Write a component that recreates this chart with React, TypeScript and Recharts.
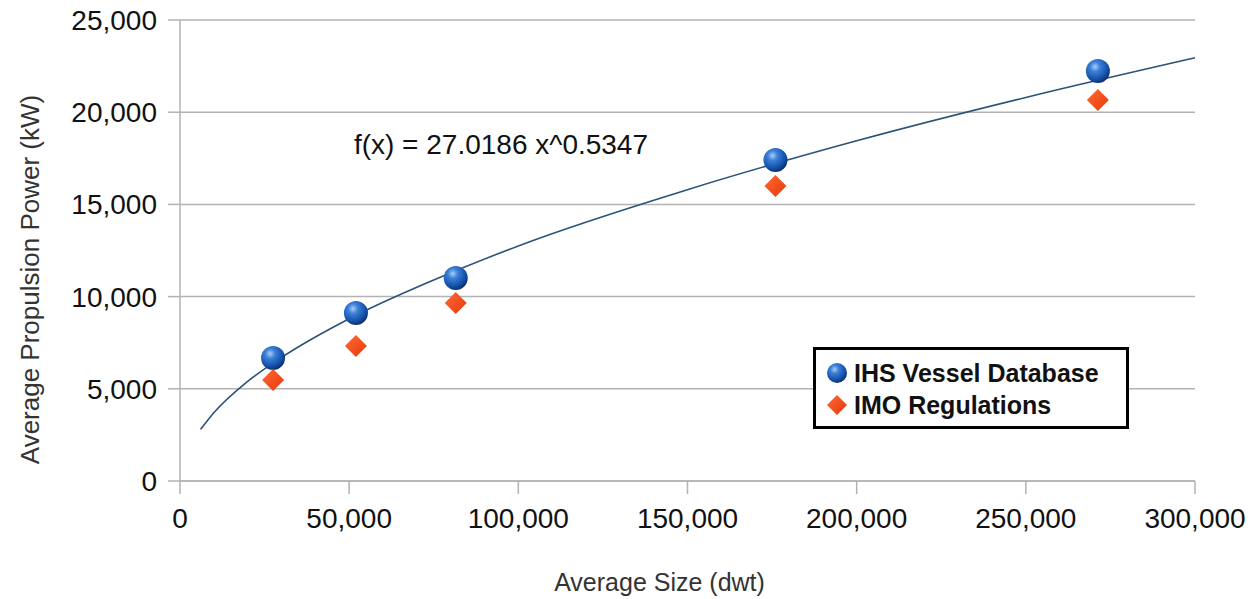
import React from 'react';
import {
  ComposedChart,
  Line,
  Scatter,
  XAxis,
  YAxis,
  CartesianGrid,
  Legend,
  ReferenceDot
} from 'recharts';

// average ship size (dwt) per size class
const sizeDwt = [27500, 52000, 81500, 176000, 271300];
const ihsPower = [6670, 9110, 11010, 17410, 22230];
const imoPower = [5480, 7320, 9650, 16000, 20660];

// power-law trend line
const trendSize = [6100, 10000, 20000, 30000, 50000, 75000, 100000, 150000, 200000, 250000, 300000];
const trendPower = [2800, 3700, 5400, 6700, 8800, 10900, 12750, 15800, 18450, 20800, 22950];

const xTicks = [0, 50000, 100000, 150000, 200000, 250000, 300000];
const yTicks = [0, 5000, 10000, 15000, 20000, 25000];

const seriesNames = ['IHS Vessel Database', 'IMO Regulations'];
const trendLabel = 'f(x) = 27.0186 x^0.5347';
const labelPos = { x: 51700, y: 18220 };

const FONT = '"Liberation Sans", Arial, sans-serif';
const GRID = '#b3b3b3';

const ihsData = sizeDwt.map((x, i) => ({ x, y: ihsPower[i] }));
const imoData = sizeDwt.map((x, i) => ({ x, y: imoPower[i] }));
const trendData = trendSize.map((x, i) => ({ x, y: trendPower[i] }));

const fmt = (v: number) => v.toLocaleString('en-US');

const SphereDefs = () => (
  <defs>
    <radialGradient id="sphereFill" cx="38%" cy="32%" r="70%">
      <stop offset="0%" stopColor="#a9cdf7" />
      <stop offset="30%" stopColor="#3b7fd6" />
      <stop offset="75%" stopColor="#1450a8" />
      <stop offset="100%" stopColor="#0a2f6e" />
    </radialGradient>
    <linearGradient id="diamondFill" x1="0" y1="0" x2="1" y2="1">
      <stop offset="0%" stopColor="#ff6a36" />
      <stop offset="100%" stopColor="#e8380a" />
    </linearGradient>
  </defs>
);

const Sphere = ({ cx, cy, r = 12 }: any) => (
  <g>
    <SphereDefs />
    <circle cx={cx} cy={cy} r={r} fill="url(#sphereFill)" />
  </g>
);

const Diamond = ({ cx, cy, s = 11 }: any) => (
  <g>
    <SphereDefs />
    <polygon
      points={`${cx},${cy - s} ${cx + s},${cy} ${cx},${cy + s} ${cx - s},${cy}`}
      fill="url(#diamondFill)"
    />
  </g>
);

const renderLegend = (props: any) => {
  const items = (props.payload || []).filter((p: any) => seriesNames.includes(p.value));
  return (
    <div
      style={{
        border: '3px solid #000',
        background: '#fff',
        boxSizing: 'border-box',
        width: 316,
        height: 82,
        padding: '7px 0 0 8px',
        fontFamily: FONT
      }}
    >
      {items.map((item: any) => {
        const idx = seriesNames.indexOf(item.value);
        return (
          <div key={item.value} style={{ display: 'flex', alignItems: 'center', height: 32 }}>
            <svg width={26} height={26}>
              {idx === 0 ? <Sphere cx={13} cy={13} r={10} /> : <Diamond cx={13} cy={13} s={10} />}
            </svg>
            <span style={{ fontSize: 25, fontWeight: 'bold', color: '#111', marginLeft: 4 }}>
              {item.value}
            </span>
          </div>
        );
      })}
    </div>
  );
};

const XTitle = ({ viewBox }: any) => (
  <text
    x={viewBox.x + viewBox.width / 2 - 28}
    y={582}
    textAnchor="middle"
    dominantBaseline="central"
    fontFamily={FONT}
    fontSize={25}
    fill="#333"
  >
    Average Size (dwt)
  </text>
);

const YTitle = ({ viewBox }: any) => {
  const cx = 30;
  const cy = viewBox.y + viewBox.height / 2 + 29;
  return (
    <text
      x={cx}
      y={cy}
      transform={`rotate(-90, ${cx}, ${cy})`}
      textAnchor="middle"
      dominantBaseline="central"
      fontFamily={FONT}
      fontSize={26}
      fill="#333"
    >
      Average Propulsion Power (kW)
    </text>
  );
};

const FormulaLabel = ({ viewBox }: any) => (
  <text
    x={viewBox.x}
    y={viewBox.y}
    dominantBaseline="central"
    fontFamily={FONT}
    fontSize={28}
    fill="#111"
  >
    {trendLabel}
  </text>
);

export default function App() {
  return (
    <div style={{ width: 1256, height: 599, background: '#fff' }}>
      <style>{'body{margin:0;}'}</style>
      <ComposedChart
        width={1256}
        height={599}
        margin={{ top: 20, right: 61, bottom: 0, left: 0 }}
      >
        <CartesianGrid horizontal vertical={false} stroke={GRID} strokeWidth={1.5} />
        <XAxis
          type="number"
          dataKey="x"
          domain={[0, 300000]}
          ticks={xTicks}
          tickFormatter={fmt}
          height={118}
          tickSize={13}
          tickMargin={14}
          stroke={GRID}
          strokeWidth={1.5}
          tick={{ fontFamily: FONT, fontSize: 28, fill: '#111' }}
          label={<XTitle />}
        />
        <YAxis
          type="number"
          dataKey="y"
          domain={[0, 25000]}
          ticks={yTicks}
          tickFormatter={fmt}
          width={180}
          tickSize={12}
          tickMargin={11}
          stroke={GRID}
          strokeWidth={1.5}
          tick={{ fontFamily: FONT, fontSize: 28, fill: '#111' }}
          label={<YTitle />}
        />
        <Line
          data={trendData}
          dataKey="y"
          type="monotone"
          stroke="#2b5278"
          strokeWidth={1.6}
          dot={false}
          activeDot={false}
          legendType="none"
          isAnimationActive={false}
        />
        <Scatter
          name={seriesNames[0]}
          data={ihsData}
          shape={(p: any) => <Sphere cx={p.cx} cy={p.cy} />}
          isAnimationActive={false}
        />
        <Scatter
          name={seriesNames[1]}
          data={imoData}
          shape={(p: any) => <Diamond cx={p.cx} cy={p.cy} />}
          isAnimationActive={false}
        />
        <ReferenceDot
          x={labelPos.x}
          y={labelPos.y}
          r={1}
          fill="none"
          stroke="none"
          label={<FormulaLabel />}
        />
        <Legend
          verticalAlign="middle"
          layout="horizontal"
          content={renderLegend}
          wrapperStyle={{ position: 'absolute', left: 813, top: 347, width: 316, height: 82 }}
        />
      </ComposedChart>
    </div>
  );
}
